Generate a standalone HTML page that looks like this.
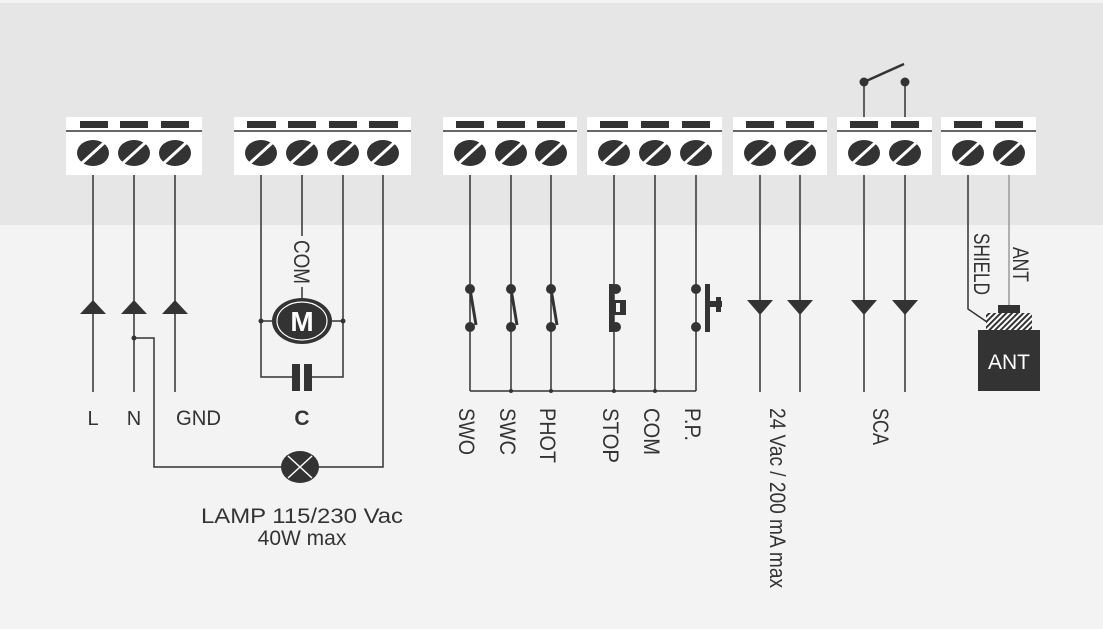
<!DOCTYPE html>
<html><head><meta charset="utf-8"><style>
html,body{margin:0;padding:0;width:1103px;height:629px;overflow:hidden;background:#f3f3f3}
svg{display:block}
text{font-family:"Liberation Sans",sans-serif;fill:#333}
</style></head><body>
<svg width="1103" height="629" viewBox="0 0 1103 629" xmlns="http://www.w3.org/2000/svg">
<defs>
<pattern id="h" width="4" height="4" patternUnits="userSpaceOnUse" patternTransform="rotate(45)">
<rect width="4" height="4" fill="#fff"/><rect width="2" height="4" fill="#333"/></pattern>
<g id="scr"><ellipse cx="0" cy="0" rx="16" ry="13" fill="#333"/><line x1="-11" y1="10" x2="11" y2="-10" stroke="#fff" stroke-width="3"/></g>
</defs>
<rect x="0" y="0" width="1103" height="629" fill="#f3f3f3"/>
<rect x="0" y="3" width="1103" height="222" fill="#e6e6e6"/>
<g stroke="#333" stroke-width="1.5" fill="none">
<line x1="93" y1="175" x2="93" y2="392"/><line x1="134" y1="175" x2="134" y2="392"/><line x1="175" y1="175" x2="175" y2="392"/>
<polyline points="134,338 154,338 154,467 282,467"/>
<polyline points="318,467 383,467 383,175"/>
<polyline points="261,175 261,377 293,377"/><polyline points="310,377 343,377 343,175"/>
<line x1="302" y1="175" x2="302" y2="236"/><line x1="302" y1="287" x2="302" y2="298"/>
<line x1="261" y1="321" x2="272" y2="321"/><line x1="332" y1="321" x2="343" y2="321"/>
<line x1="470" y1="175" x2="470" y2="391"/><line x1="511" y1="175" x2="511" y2="391"/><line x1="551" y1="175" x2="551" y2="391"/>
<line x1="614" y1="175" x2="614" y2="391"/><line x1="655" y1="175" x2="655" y2="391"/><line x1="696" y1="175" x2="696" y2="391"/>
<line x1="470" y1="391" x2="696" y2="391"/>
<line x1="760" y1="175" x2="760" y2="392"/><line x1="800" y1="175" x2="800" y2="392"/>
<line x1="864" y1="82" x2="864" y2="392"/><line x1="905" y1="82" x2="905" y2="392"/>
<line x1="864" y1="82" x2="904" y2="64" stroke-width="2.5"/>
<polyline points="968,175 968,309 987,322"/>
<line x1="1009" y1="175" x2="1009" y2="305" stroke="#999"/>
</g>
<g fill="#333">
<circle cx="134" cy="338" r="2.5"/><circle cx="261" cy="321" r="2.5"/><circle cx="343" cy="321" r="2.5"/>
<circle cx="511" cy="391" r="2"/><circle cx="551" cy="391" r="2"/><circle cx="614" cy="391" r="2"/><circle cx="655" cy="391" r="2"/>
<circle cx="864" cy="82" r="4.5"/><circle cx="905" cy="82" r="4.5"/>
<polygon points="93,300 80,314 106,314"/><polygon points="134,300 121,314 147,314"/><polygon points="175,300 162,314 188,314"/>
<polygon points="747,300 773,300 760,315"/><polygon points="787,300 813,300 800,315"/>
<polygon points="851,300 877,300 864,315"/><polygon points="892,300 918,300 905,315"/>
<rect x="292" y="364" width="8" height="27"/><rect x="304" y="364" width="8" height="27"/>
<circle cx="470" cy="289" r="5"/><circle cx="470" cy="327" r="5"/><line x1="470" y1="289" x2="476" y2="325" stroke="#333" stroke-width="3"/>
<circle cx="511" cy="289" r="5"/><circle cx="511" cy="327" r="5"/><line x1="511" y1="289" x2="517" y2="325" stroke="#333" stroke-width="3"/>
<circle cx="551" cy="289" r="5"/><circle cx="551" cy="327" r="5"/><line x1="551" y1="289" x2="557" y2="325" stroke="#333" stroke-width="3"/>
<circle cx="616" cy="289" r="5"/><circle cx="616" cy="327" r="5"/><rect x="609" y="284" width="5" height="48"/><rect x="612" y="300" width="14" height="15"/>
<rect x="616" y="303" width="10" height="9" fill="#f3f3f3"/><rect x="620" y="300" width="6" height="15"/>
<circle cx="696" cy="289" r="5"/><circle cx="696" cy="327" r="5"/><rect x="705" y="284" width="5" height="48"/><rect x="705" y="301" width="17" height="6"/><rect x="716" y="297" width="5" height="15"/>
</g>
<ellipse cx="302" cy="321" rx="30" ry="23" fill="#333"/>
<ellipse cx="302" cy="321" rx="25" ry="19" fill="none" stroke="#fff" stroke-width="1.2"/>
<text x="302" y="331" text-anchor="middle" font-size="28" font-weight="bold" style="fill:#fff">M</text>
<ellipse cx="300" cy="467" rx="19" ry="16" fill="#333"/>
<line x1="288" y1="456" x2="312" y2="478" stroke="#fff" stroke-width="1.5"/><line x1="312" y1="456" x2="288" y2="478" stroke="#fff" stroke-width="1.5"/>
<rect x="998" y="305" width="22" height="9" fill="#333"/>
<rect x="986" y="313" width="46" height="17" fill="url(#h)"/>
<rect x="978" y="330" width="62" height="61" fill="#333"/>
<text x="1009" y="369" text-anchor="middle" font-size="21" style="fill:#fff">ANT</text>
<rect x="66" y="117" width="136" height="58" fill="#fff"/>
<rect x="234" y="117" width="177" height="58" fill="#fff"/>
<rect x="443" y="117" width="134" height="58" fill="#fff"/>
<rect x="587" y="117" width="135" height="58" fill="#fff"/>
<rect x="733" y="117" width="94" height="58" fill="#fff"/>
<rect x="837" y="117" width="95" height="58" fill="#fff"/>
<rect x="941" y="117" width="95" height="58" fill="#fff"/>
<g stroke="#333" stroke-width="1.5">
<line x1="66" y1="131" x2="202" y2="131"/><line x1="234" y1="131" x2="411" y2="131"/><line x1="443" y1="131" x2="577" y2="131"/>
<line x1="587" y1="131" x2="722" y2="131"/><line x1="733" y1="131" x2="827" y2="131"/><line x1="837" y1="131" x2="932" y2="131"/><line x1="941" y1="131" x2="1036" y2="131"/>
</g>
<g fill="#333">
<rect x="80" y="121" width="28" height="7"/><rect x="120" y="121" width="28" height="7"/><rect x="161" y="121" width="28" height="7"/>
<rect x="247" y="121" width="29" height="7"/><rect x="288" y="121" width="28" height="7"/><rect x="329" y="121" width="28" height="7"/><rect x="369" y="121" width="29" height="7"/>
<rect x="456" y="121" width="28" height="7"/><rect x="497" y="121" width="28" height="7"/><rect x="537" y="121" width="28" height="7"/>
<rect x="600" y="121" width="28" height="7"/><rect x="641" y="121" width="28" height="7"/><rect x="682" y="121" width="28" height="7"/>
<rect x="746" y="121" width="28" height="7"/><rect x="786" y="121" width="28" height="7"/>
<rect x="850" y="121" width="28" height="7"/><rect x="891" y="121" width="28" height="7"/>
<rect x="954" y="121" width="28" height="7"/><rect x="995" y="121" width="28" height="7"/>
</g>
<use href="#scr" x="93" y="153"/><use href="#scr" x="134" y="153"/><use href="#scr" x="175" y="153"/>
<use href="#scr" x="261" y="153"/><use href="#scr" x="302" y="153"/><use href="#scr" x="343" y="153"/><use href="#scr" x="383" y="153"/>
<use href="#scr" x="470" y="153"/><use href="#scr" x="511" y="153"/><use href="#scr" x="551" y="153"/>
<use href="#scr" x="614" y="153"/><use href="#scr" x="655" y="153"/><use href="#scr" x="696" y="153"/>
<use href="#scr" x="760" y="153"/><use href="#scr" x="800" y="153"/>
<use href="#scr" x="864" y="153"/><use href="#scr" x="905" y="153"/>
<use href="#scr" x="968" y="153"/><use href="#scr" x="1009" y="153"/>
<g font-size="22">
<text x="93" y="425" text-anchor="middle" font-size="20">L</text>
<text x="134" y="425" text-anchor="middle" font-size="20">N</text>
<text x="176" y="425" textLength="45" lengthAdjust="spacingAndGlyphs" font-size="21">GND</text>
<text x="302" y="425" text-anchor="middle" font-weight="bold" font-size="21">C</text>
<text x="201" y="523" textLength="202" lengthAdjust="spacingAndGlyphs" font-size="21">LAMP 115/230 Vac</text>
<text x="302" y="545" text-anchor="middle" font-size="21">40W max</text>
<text transform="translate(294,240) rotate(90)" textLength="44" lengthAdjust="spacingAndGlyphs">COM</text>
<text transform="translate(459,408) rotate(90)" textLength="47" lengthAdjust="spacingAndGlyphs">SWO</text>
<text transform="translate(500,408) rotate(90)" textLength="47" lengthAdjust="spacingAndGlyphs">SWC</text>
<text transform="translate(540,408) rotate(90)" textLength="55" lengthAdjust="spacingAndGlyphs">PHOT</text>
<text transform="translate(603,408) rotate(90)" textLength="55" lengthAdjust="spacingAndGlyphs">STOP</text>
<text transform="translate(644,408) rotate(90)" textLength="47" lengthAdjust="spacingAndGlyphs">COM</text>
<text transform="translate(685,408) rotate(90)" textLength="33" lengthAdjust="spacingAndGlyphs">P.P.</text>
<text transform="translate(770,408) rotate(90)" textLength="180" lengthAdjust="spacingAndGlyphs">24 Vac / 200 mA max</text>
<text transform="translate(873,408) rotate(90)" textLength="37" lengthAdjust="spacingAndGlyphs">SCA</text>
<text transform="translate(974,233) rotate(90)" textLength="62" lengthAdjust="spacingAndGlyphs">SHIELD</text>
<text transform="translate(1013,247) rotate(90)" textLength="35" lengthAdjust="spacingAndGlyphs">ANT</text>
</g>
</svg>
</body></html>
